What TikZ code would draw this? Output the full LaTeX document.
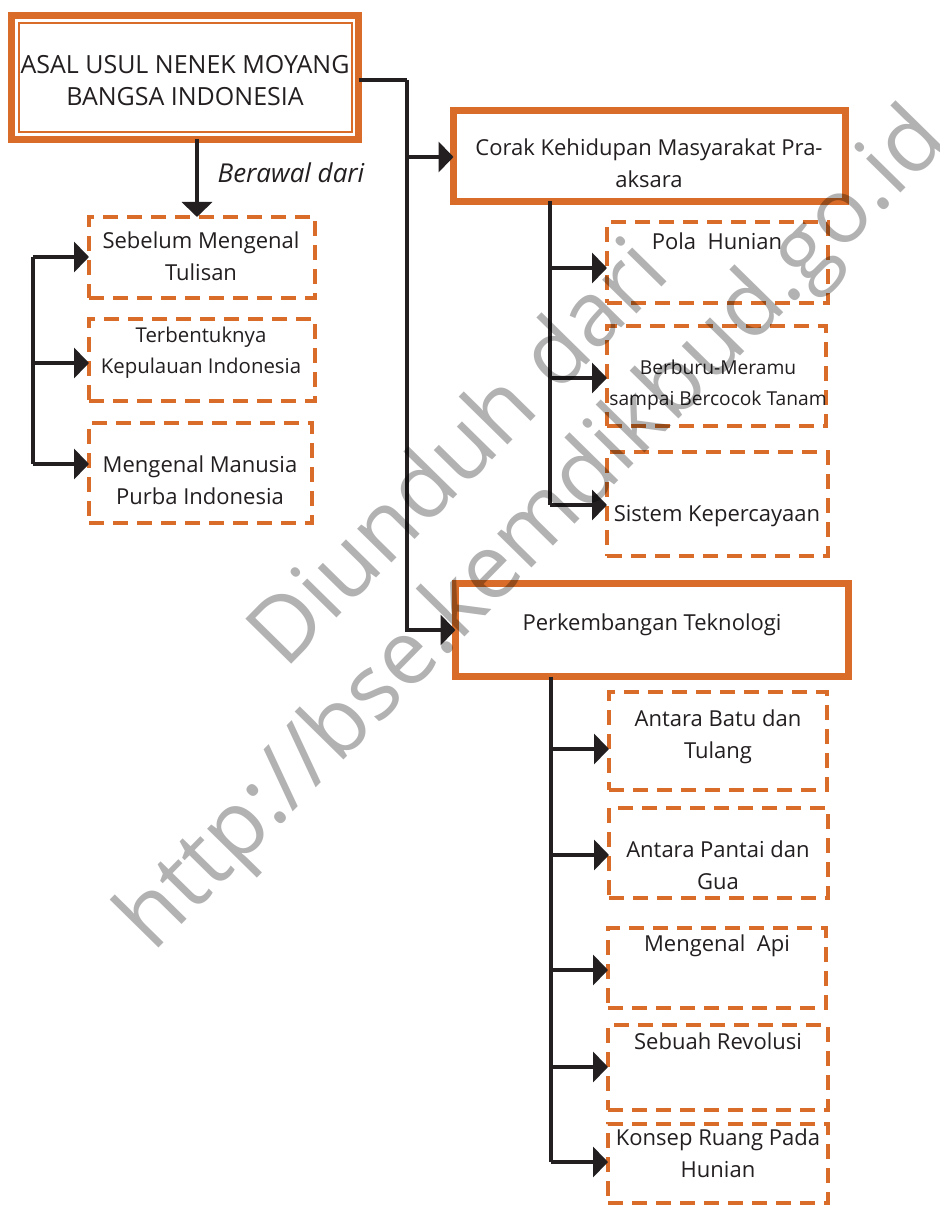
\documentclass[tikz,border=0pt]{standalone}
\usepackage{fontspec}
\setmainfont{Open Sans}
\usetikzlibrary{arrows.meta}
\definecolor{orng}{RGB}{216,108,40}
\definecolor{ink}{RGB}{35,31,32}
\tikzset{
  sbox/.style={draw=orng, line width=3.5pt, fill=white, inner sep=0pt, outer sep=0pt},
  dbox/.style={draw=orng, line width=2pt, dash pattern=on 7.5pt off 4.5pt, inner sep=0pt, outer sep=0pt},
  txt/.style={text=ink, align=center, inner sep=0pt, font=\fontsize{11}{16}\selectfont},
  smalltxt/.style={txt, font=\fontsize{10.2}{15.5}\selectfont},
  tinytxt/.style={txt, font=\fontsize{9.6}{15.5}\selectfont},
  ln/.style={draw=ink, line width=2.2pt},
  arr/.style={ln, -{Triangle[length=7.5pt,width=15pt]}},
  wm/.style={text=black, opacity=0.3, font=\fontsize{45}{50}\selectfont, inner sep=0pt}
}
\begin{document}
\begin{tikzpicture}[x=0.5pt,y=-0.5pt]
\useasboundingbox (0,0) rectangle (940,1208);
\fill[white] (0,0) rectangle (940,1208);
% boxes
\node[sbox, minimum width=173.5pt, minimum height=62pt] (top) at (185,77.5) {};
\draw[orng, line width=0.8pt] (19,23) rectangle (352,132);
\node[txt, font=\fontsize{12.5}{16}\selectfont] (toptxt) at (185,81) {ASAL USUL NENEK MOYANG\\BANGSA INDONESIA};

\node[sbox, minimum width=196pt, minimum height=45.5pt] (corak) at (649.5,156) {};
\node[txt] (coraktxt) at (649,163) {Corak Kehidupan Masyarakat Pra-\\aksara};
\node[sbox, minimum width=196.5pt, minimum height=46.5pt] (perk) at (652,630) {};
\node[txt] (perktxt) at (652,625) {Perkembangan Teknologi};

\node[dbox, minimum width=113pt, minimum height=40.5pt] (sl1) at (202,257.5) {};
\node[txt] (sl1t) at (201,256) {Sebelum Mengenal\\Tulisan};
\node[dbox, minimum width=113pt, minimum height=41pt] (sl2) at (202,360) {};
\node[smalltxt] (sl2t) at (201,352.5) {Terbentuknya\\Kepulauan Indonesia};
\node[dbox, minimum width=111.5pt, minimum height=50pt] (sl3) at (200.5,473) {};
\node[txt] (sl3t) at (200,480) {Mengenal Manusia\\Purba Indonesia};

\node[dbox, minimum width=110.5pt, minimum height=40.5pt] (pola) at (717.5,262.5) {};
\node[txt] (polat) at (717,241) {Pola\ \ Hunian};
\node[dbox, minimum width=109.5pt, minimum height=50pt] (berb) at (716.5,376) {};
\node[tinytxt] (berbt) at (718,385) {Berburu-Meramu\\sampai Bercocok Tanam};
\node[dbox, minimum width=110.5pt, minimum height=52pt] (sist) at (717.5,504) {};
\node[txt] (sistt) at (717,516) {Sistem Kepercayaan};

\node[dbox, minimum width=109pt, minimum height=49pt] (batu) at (718,741) {};
\node[txt] (batut) at (718,737) {Antara Batu dan\\Tulang};
\node[dbox, minimum width=109.5pt, minimum height=45pt] (pant) at (718.5,853) {};
\node[txt] (pantt) at (718,865) {Antara Pantai dan\\Gua};
\node[dbox, minimum width=109pt, minimum height=40pt] (api) at (717,968) {};
\node[txt] (apit) at (717,946) {Mengenal\ \ Api};
\node[dbox, minimum width=110pt, minimum height=42.5pt] (rev) at (718,1067.5) {};
\node[txt] (revt) at (718,1041) {Sebuah Revolusi};
\node[dbox, minimum width=110pt, minimum height=39.5pt] (kons) at (718,1163.5) {};
\node[txt] (konst) at (718,1153) {Konsep Ruang Pada\\Hunian};

% top down arrow
\draw[arr] (top.south -| 197,0) -- (sl1.north -| 197,0);
\node[txt, font=\fontsize{13}{15}\itshape] (beraw) at (291,173) {Berawal dari};

% left bracket
\coordinate (la) at (33,257);
\coordinate (lb) at (33,363);
\coordinate (lc) at (33,464);
\draw[ln] (la) -- (lc);
\draw[arr] (la) -- (sl1.west |- la);
\draw[arr] (lb) -- (sl2.west |- lb);
\draw[arr] (lc) -- (sl3.west |- lc);

% main trunk
\coordinate (ma) at (407,80);
\coordinate (mb) at (407,157);
\coordinate (mc) at (407,630);
\draw[ln] (top.east |- ma) -- (ma);
\draw[arr] (ma) -- (mc) -- (perk.west);
\draw[arr] (mb) -- (corak.west |- mb);

% corak trunk
\coordinate (ca) at (550,268);
\coordinate (cb) at (550,378);
\coordinate (cc) at (550,505);
\draw[ln] (corak.south -| ca) -- (cc);
\draw[arr] (ca) -- (pola.west |- ca);
\draw[arr] (cb) -- (berb.west |- cb);
\draw[arr] (cc) -- (sist.west |- cc);

% perk trunk
\coordinate (pa) at (551,749);
\coordinate (pb) at (551,855);
\coordinate (pc) at (551,970);
\coordinate (pd) at (551,1067);
\coordinate (pe) at (551,1162);
\draw[ln] (perk.south -| pa) -- (pe);
\draw[arr] (pa) -- (batu.west |- pa);
\draw[arr] (pb) -- (pant.west |- pb);
\draw[arr] (pc) -- (api.west |- pc);
\draw[arr] (pd) -- (rev.west |- pd);
\draw[arr] (pe) -- (kons.west |- pe);

% watermark
\node[wm, rotate=45.5] (wm1) at (455,450) {Diunduh dari};
\node[wm, rotate=45.5] (wm2) at (535,532) {http://bse.kemdikbud.go.id};
\end{tikzpicture}
\end{document}
